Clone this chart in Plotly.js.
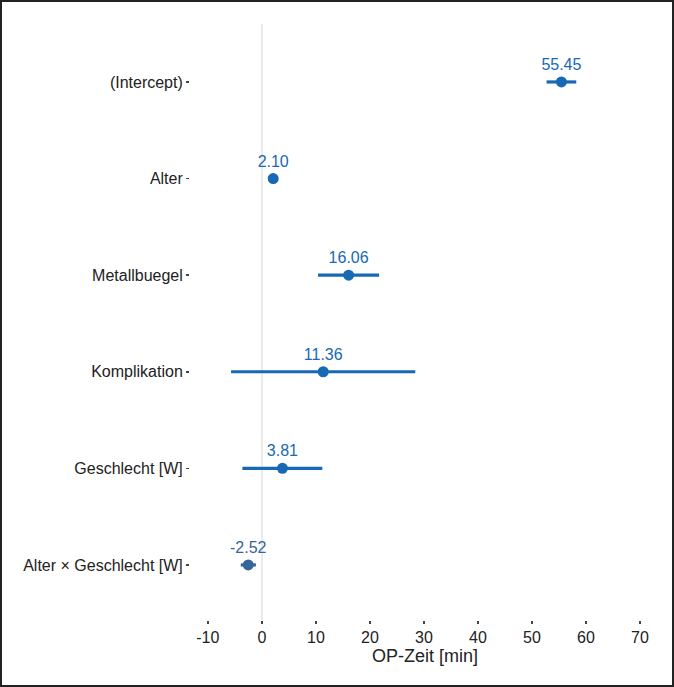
<!DOCTYPE html>
<html>
<head>
<meta charset="utf-8">
<script src="https://cdn.plot.ly/plotly-3.0.1.min.js"></script>
<style>
html,body{margin:0;padding:0;background:#fff;}
#chart{width:674px;height:687px;}
#frame{position:absolute;left:0;top:0;width:674px;height:687px;box-sizing:border-box;border:2px solid #222;pointer-events:none;}
</style>
</head>
<body>
<div id="chart"></div>
<div id="frame"></div>
<script>
const terms = ['(Intercept)', 'Alter', 'Metallbuegel', 'Komplikation', 'Geschlecht [W]', 'Alter × Geschlecht [W]'];
const estimates = [55.45, 2.10, 16.06, 11.36, 3.81, -2.52];
const ciLow = [52.7, 1.9, 10.4, -5.7, -3.6, -3.9];
const ciHigh = [58.2, 2.3, 21.7, 28.4, 11.2, -1.1];
const labels = ['55.45', '2.10', '16.06', '11.36', '3.81', '-2.52'];
const xTicks = [-10, 0, 10, 20, 30, 40, 50, 60, 70];

const posColor = '#1769b3';
const negColor = '#35659a';

const ypos = terms.map((t, i) => terms.length - i);
const colors = estimates.map(v => v >= 0 ? posColor : negColor);

const traces = [];
estimates.forEach((v, i) => {
  traces.push({
    type: 'scatter',
    mode: 'markers+text',
    x: [v],
    y: [ypos[i]],
    text: [labels[i]],
    textposition: 'top center',
    textfont: {family: 'Liberation Sans, Arial, sans-serif', size: 16, color: colors[i]},
    marker: {size: 11, color: colors[i]},
    error_x: {
      type: 'data', symmetric: false,
      array: [ciHigh[i] - v], arrayminus: [v - ciLow[i]],
      color: colors[i], thickness: 3.2, width: 0
    },
    showlegend: false,
    hoverinfo: 'x+y'
  });
});

const layout = {
  width: 674, height: 687,
  margin: {l: 190, r: 14, t: 24, b: 67},
  paper_bgcolor: '#fff', plot_bgcolor: '#fff',
  font: {family: 'Liberation Sans, Arial, sans-serif', size: 16, color: '#222'},
  xaxis: {
    range: [-13.3, 73.7],
    tickvals: xTicks,
    ticktext: xTicks.map(String),
    showgrid: false,
    zeroline: true, zerolinecolor: '#ebebeb', zerolinewidth: 1.5,
    ticks: 'outside', ticklen: 3, tickwidth: 1.5, tickcolor: '#444',
    showline: false,
    tickfont: {size: 16, color: '#222'},
    title: {text: 'OP-Zeit [min]', font: {size: 18, color: '#222'}, standoff: 2}
  },
  yaxis: {
    range: [0.43, 6.6],
    tickvals: ypos,
    ticktext: terms,
    showgrid: false, zeroline: false, showline: false,
    ticks: 'outside', ticklen: 3, tickwidth: 1.5, tickcolor: '#444',
    tickfont: {size: 16, color: '#222'}
  }
};

Plotly.newPlot('chart', traces, layout, {displayModeBar: false, staticPlot: true});
</script>
</body>
</html>
